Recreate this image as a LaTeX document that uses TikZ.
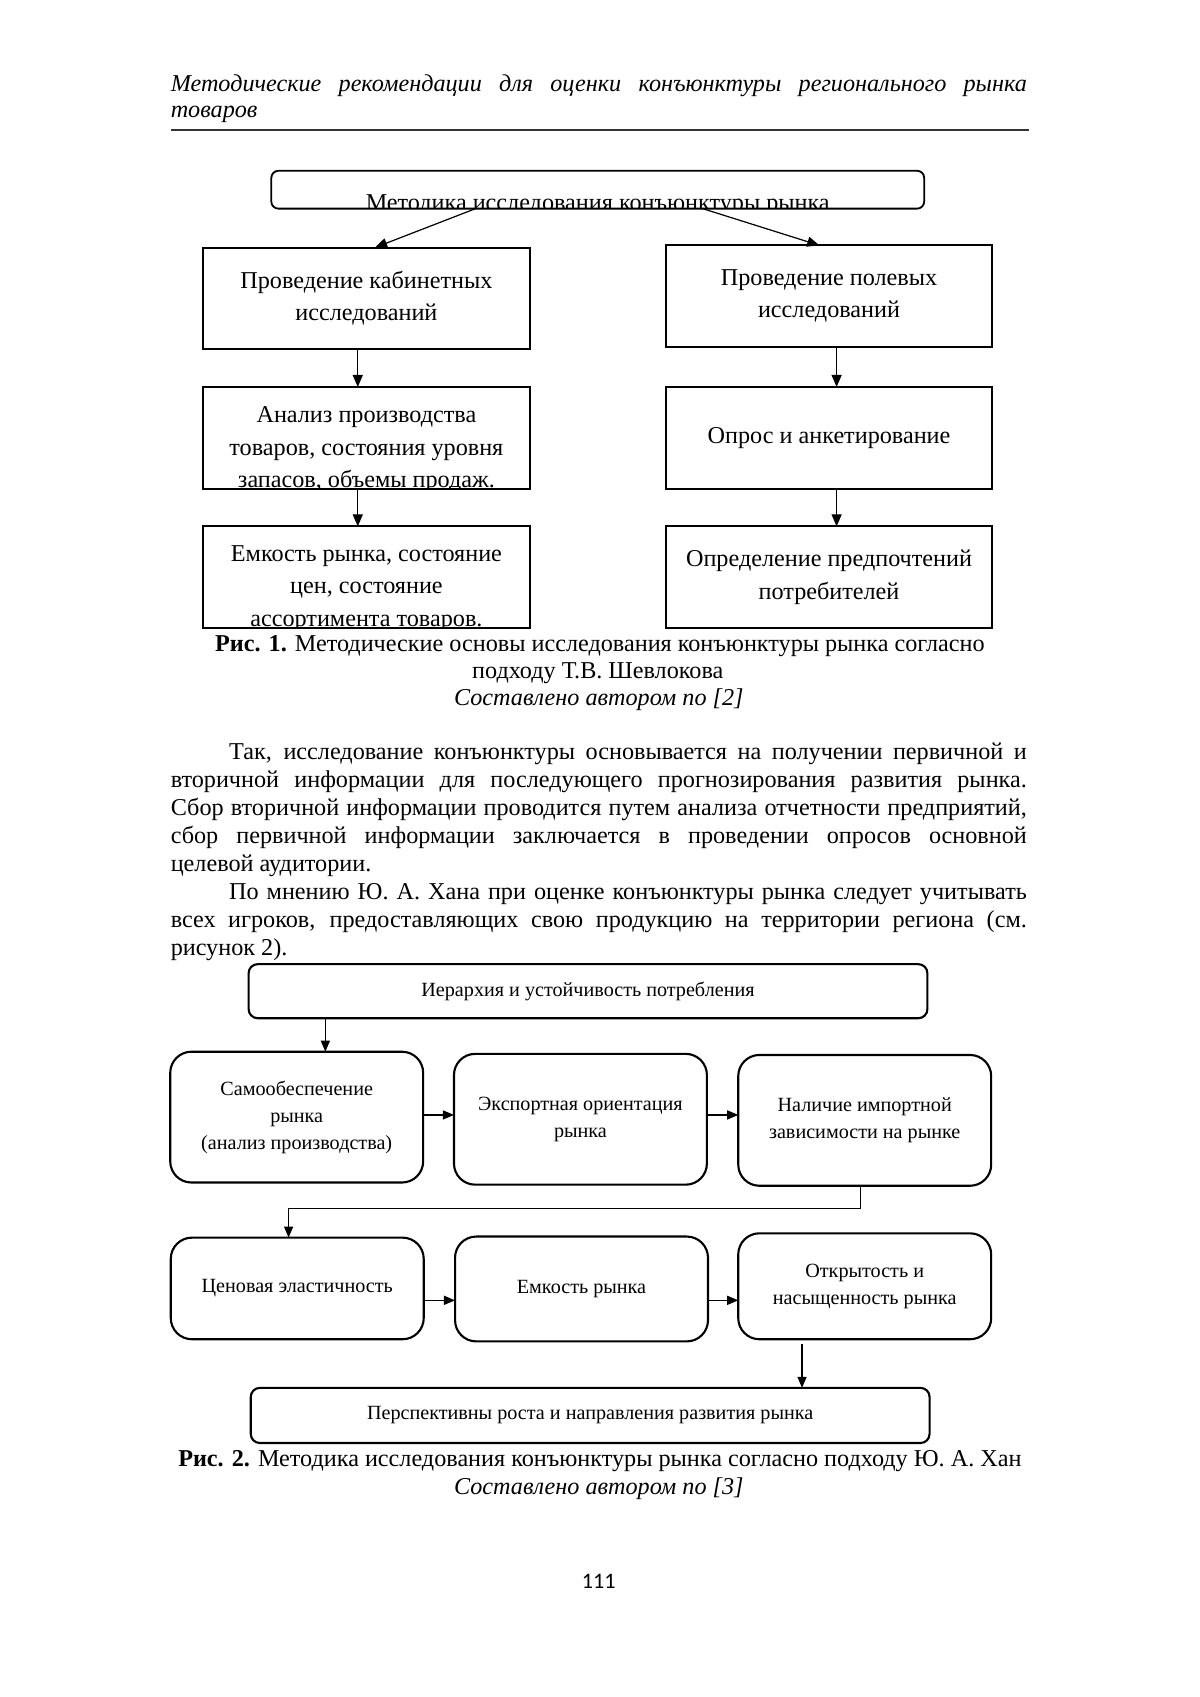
\documentclass[tikz,border=0pt]{standalone}
\usepackage{fontspec}
\setmainfont{Liberation Serif}
\newfontfamily\pgnumfont{Carlito}
\usetikzlibrary{arrows.meta,calc}
\def\u{0.5362pt}
\newcommand\fsz[2]{\fontsize{#1}{#2}\selectfont}
\begin{document}
\begin{tikzpicture}[x=0.5362pt,y=-0.5362pt,
  every node/.style={inner sep=0pt, outer sep=0pt},
  txt/.style={anchor=mid, font=\fsz{12}{14}},
  bodyline/.style={anchor=mid west, font=\fsz{12}{14}},
  sqbox/.style={draw, line width=1pt, align=center, font=\fsz{12}{16}, minimum width=302*\u, minimum height=94*\u},
  rbox/.style={draw, line width=1.05pt, rounded corners=10.5pt, align=center, font=\fsz{10}{13.4}, minimum width=234*\u},
  wbox/.style={draw, line width=1.05pt, rounded corners=4.5pt, align=center, font=\fsz{10}{13.4}, minimum width=628*\u, minimum height=50*\u},
  cliptext/.style={anchor=north, align=center, font=\fsz{12}{16}},
  arr1/.style={line width=0.6pt, -{Triangle[length=6pt, width=5pt]}},
  arr2/.style={line width=0.6pt, -{Triangle[length=5.5pt, width=4.5pt]}},
]
\useasboundingbox (0,0) rectangle (1110,1570);
\fill[white] (0,0) rectangle (1110,1570);

% header
\node[bodyline, font=\fsz{12}{13}\itshape] (h1) at (158,80) {\makebox[424.7pt][s]{Методические рекомендации для оценки конъюнктуры регионального рынка}};
\node[bodyline, font=\fsz{12}{13}\itshape] (h2) at (158,104) {товаров};
\coordinate (r1) at (158,120);
\coordinate (r2) at (952,120);
\draw[line width=1pt, black!80] (r1) -- (r2);

% figure 1
\node[draw, line width=0.9pt, rounded corners=3.5pt, minimum width=604*\u, minimum height=35*\u,
  path picture={\node[anchor=base, font=\fsz{12}{16}] at ([yshift=-2*\u]path picture bounding box.south) {Методика исследования конъюнктуры рынка};}] (T) at (553,175.5) {};

\node[sqbox] (L1) at (339,276) {Проведение кабинетных\\исследований};
\node[sqbox] (R1) at (767,274) {Проведение полевых\\исследований};
\node[sqbox, path picture={\node[cliptext] at ([yshift=-11*\u]path picture bounding box.north) {Анализ производства\\товаров, состояния уровня\\запасов, объемы продаж.};}] (L2) at (339,405) {};
\node[sqbox] (R2) at (767,405) {Опрос и анкетирование};
\node[sqbox, path picture={\node[cliptext] at ([yshift=-10.5*\u]path picture bounding box.north) {Емкость рынка, состояние\\цен, состояние\\ассортимента товаров.};}] (L3) at (339,534) {};
\node[sqbox] (R3) at (767,534) {Определение предпочтений\\потребителей};

\draw[arr1] ([xshift=-113*\u]T.south) -- ([xshift=8*\u]L1.north);
\draw[arr1] ([xshift=97*\u]T.south) -- ([xshift=-9*\u]R1.north);
\draw[arr1] ([xshift=-8*\u]L1.south) -- ([xshift=-8*\u]L2.north);
\draw[arr1] ([xshift=7*\u]R1.south) -- ([xshift=7*\u]R2.north);
\draw[arr1] ([xshift=-8*\u]L2.south) -- ([xshift=-8*\u]L3.north);
\draw[arr1] ([xshift=7*\u]R2.south) -- ([xshift=7*\u]R3.north);

% caption 1
\node[txt] (c1a) at (555,598) {\textbf{Рис. 1.} Методические основы исследования конъюнктуры рынка согласно};
\node[txt] (c1b) at (553,623) {подходу Т.В. Шевлокова};
\node[txt, font=\fsz{12}{14}\itshape] (c1c) at (554,648) {Составлено автором по [2]};

% body text
\node[bodyline] (p1) at (212,698) {\makebox[395.7pt][s]{Так, исследование конъюнктуры основывается на получении первичной и}};
\node[bodyline] (p2) at (158,724) {\makebox[424.7pt][s]{вторичной информации для последующего прогнозирования развития рынка.}};
\node[bodyline] (p3) at (158,750) {\makebox[424.7pt][s]{Сбор вторичной информации проводится путем анализа отчетности предприятий,}};
\node[bodyline] (p4) at (158,776) {\makebox[424.7pt][s]{сбор первичной информации заключается в проведении опросов основной}};
\node[bodyline] (p5) at (158,802) {целевой аудитории.};
\node[bodyline] (q1) at (212,828) {\makebox[395.7pt][s]{По мнению Ю. А. Хана при оценке конъюнктуры рынка следует учитывать}};
\node[bodyline] (q2) at (158,854) {\makebox[424.7pt][s]{всех игроков, предоставляющих свою продукцию на территории региона (см.}};
\node[bodyline] (q3) at (158,880) {рисунок 2).};

% figure 2
\node[wbox] (H) at (544,917) {Иерархия и устойчивость потребления};
\node[rbox, minimum height=121*\u] (B1) at (274.5,1033.5) {Самообеспечение\\рынка\\(анализ производства)};
\node[rbox, minimum height=121*\u] (B2) at (537,1035.5) {Экспортная ориентация\\рынка};
\node[rbox, minimum height=121*\u] (B3) at (800,1036.5) {Наличие импортной\\зависимости на рынке};
\node[rbox, minimum height=94*\u] (C1) at (275,1192) {Ценовая эластичность};
\node[rbox, minimum height=97*\u] (C2) at (538,1192.5) {Емкость рынка};
\node[rbox, minimum height=98*\u] (C3) at (800,1190) {Открытость и\\насыщенность рынка};
\node[wbox, minimum height=51*\u] (P) at (546,1309.5) {Перспективны роста и направления развития рынка};

\coordinate (a1) at ([xshift=26.5*\u]B1.north);
\coordinate (a2) at ([yshift=2*\u]B1.east);
\coordinate (a3) at ([yshift=4*\u]B2.east);
\coordinate (a4) at ([xshift=-4*\u]B3.south);
\coordinate (a5) at ([xshift=-8*\u]C1.north);
\coordinate (a6) at ([yshift=-11*\u]C1.east);
\coordinate (a7) at ([yshift=-13*\u]C3.west);
\coordinate (a8) at ([xshift=-58*\u,yshift=-4*\u]C3.south);

\draw[arr2] (H.south -| a1) -- (a1);
\draw[arr2] (a2) -- (a2 -| B2.west);
\draw[arr2] (a3) -- (a3 -| B3.west);
\draw[arr2] (a4) -- ++(0,21) -| (a5);
\draw[arr2] (a6) -- (a6 -| C2.west);
\draw[arr2] (a7 -| C2.east) -- (a7);
\draw[arr2] (a8) -- (a8 |- P.north);

% caption 2
\node[txt] (c2a) at (555,1352) {\textbf{Рис. 2.} Методика исследования конъюнктуры рынка согласно подходу Ю. А. Хан};
\node[txt, font=\fsz{12}{14}\itshape] (c2b) at (554,1378) {Составлено автором по [3]};

% page number
\node[anchor=mid, font=\pgnumfont\fsz{11}{13}] (pg) at (554,1465) {111};
\end{tikzpicture}
\end{document}
